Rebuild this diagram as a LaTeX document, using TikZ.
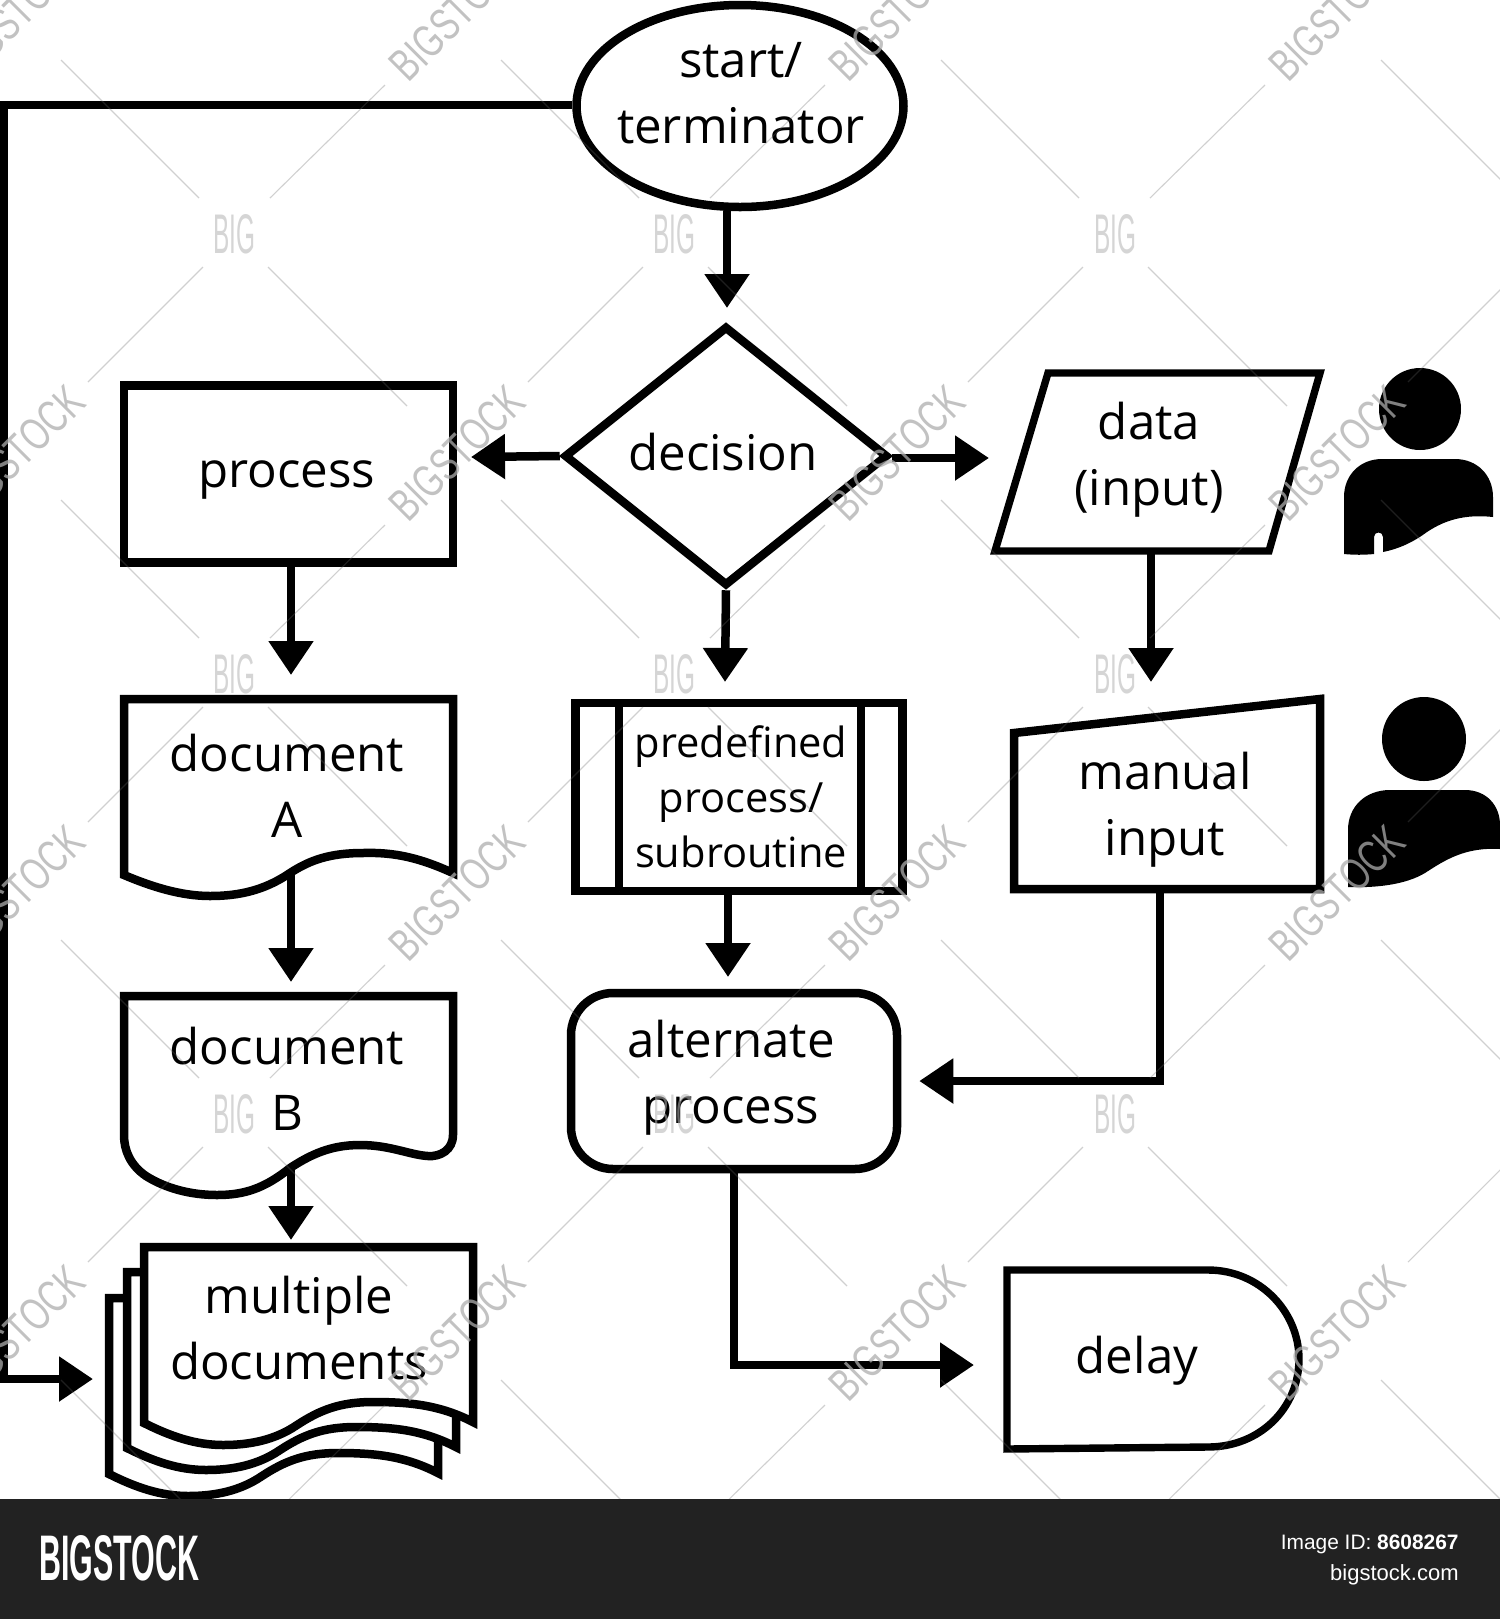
\documentclass[tikz,border=0pt]{standalone}
\usepackage{fontspec}
\usepackage{graphicx}
\usetikzlibrary{arrows.meta,shapes.geometric}
\setmainfont{Open Sans}
\newfontfamily\footfont{Liberation Sans}
\definecolor{footbg}{HTML}{222222}
\definecolor{wmark}{gray}{0.68}
\definecolor{wbig}{gray}{0.71}
\definecolor{wline}{gray}{0.4}
\tikzset{
  x=0.5pt,y=-0.5pt,
  shapeline/.style={draw=black,line width=4.25pt,fill=white,miter limit=10},
  thinshape/.style={draw=black,line width=3.7pt,fill=white,miter limit=10},
  emptynode/.style={inner sep=0pt},
  conn/.style={draw=black,line width=4.25pt,-{Triangle[length=17pt,width=21.5pt]}},
  lbl/.style={inner sep=0pt,align=center,anchor=base,font=\fontsize{24.6}{32.7}\selectfont},
  lblsmall/.style={inner sep=0pt,align=center,anchor=base,font=\fontsize{20.8}{27.3}\selectfont},
  person/.style={fill=black,draw=none},
  wmline/.style={draw=wline,draw opacity=0.3,line width=0.55pt},
  foot/.style={inner sep=0pt,text=white,anchor=base east,font=\footfont\fontsize{11}{13}\selectfont},
}
\begin{document}
\begin{tikzpicture}
\clip (0,0) rectangle (1500,1619);
\fill[white] (0,0) rectangle (1500,1619);

% shapes
\node[shapeline,emptynode,ellipse,minimum width=163.5pt,minimum height=101pt] (start) at (740,106) {};
\node[shapeline,emptynode,diamond,minimum width=162pt,minimum height=130pt] (decision) at (726,456) {};
\node[shapeline,emptynode,rectangle,minimum width=164.5pt,minimum height=88.5pt] (process) at (288.5,474) {};
\node[shapeline,emptynode,rectangle,minimum width=163.5pt,minimum height=94pt] (predef) at (739,797) {};
\node[shapeline,emptynode,rectangle,rounded corners=21pt,minimum width=163pt,minimum height=88pt] (alt) at (734,1081) {};
\draw[shapeline] (619,703) -- (619,891);
\draw[shapeline] (861,703) -- (861,891);

% document A
\draw[shapeline] (124,699) -- (453,699) -- (453,873)
  .. controls (420,858) and (395,852) .. (363,853)
  .. controls (330,853) and (310,860) .. (290,873)
  .. controls (265,890) and (240,896) .. (210,896)
  .. controls (180,896) and (150,886) .. (124,875) -- cycle;
% document B
\draw[shapeline] (124,996) -- (453,996) -- (453,1135)
  .. controls (453,1150) and (440,1157) .. (428,1156)
  .. controls (410,1155) and (390,1145) .. (360,1145)
  .. controls (330,1145) and (310,1155) .. (290,1168)
  .. controls (265,1188) and (245,1195) .. (217,1195)
  .. controls (190,1195) and (165,1188) .. (146,1176)
  .. controls (130,1165) and (124,1150) .. (124,1135) -- cycle;
% multiple documents
\foreach \dx/\dy in {-35/51,-17/25,0/0}{
  \draw[shapeline,shift={(\dx,\dy)}] (144,1247) -- (473,1247) -- (473,1422)
    .. controls (440,1405) and (410,1402) .. (373,1402)
    .. controls (340,1402) and (320,1410) .. (297,1425)
    .. controls (275,1440) and (250,1445) .. (223,1445)
    .. controls (195,1445) and (170,1436) .. (144,1423) -- cycle;
}
% data
\draw[thinshape] (1048,373) -- (1320,373) -- (1269,551) -- (995,551) -- cycle;
% manual input
\draw[shapeline] (1014,733) -- (1320,699) -- (1320,889) -- (1014,889) -- cycle;
% delay
\draw[thinshape] (1007,1270) -- (1208,1270)
  .. controls (1260,1270) and (1299,1312) .. (1299,1359)
  .. controls (1299,1408) and (1260,1447) .. (1208,1447)
  -- (1007,1449) -- cycle;

% persons
\fill[person] (1420,409) circle[x radius=41,y radius=41];
\fill[person] (1344,554) -- (1344,497)
  .. controls (1344,475) and (1360,459) .. (1382,459) -- (1455,459)
  .. controls (1477,459) and (1493,475) .. (1493,497) -- (1493,517)
  .. controls (1465,514) and (1445,520) .. (1427,532)
  .. controls (1412,543) and (1398,549) .. (1383,552)
  -- (1383,537) .. controls (1383,531) and (1374,531) .. (1374,537) -- (1374,554)
  .. controls (1364,555) and (1354,555) .. (1344,554) -- cycle;
\fill[person] (1424,739) circle[x radius=42,y radius=42];
\fill[person] (1348,887) -- (1348,830)
  .. controls (1348,806) and (1366,790) .. (1390,790) -- (1465,790)
  .. controls (1487,790) and (1500,806) .. (1500,825) -- (1500,849)
  .. controls (1465,847) and (1445,860) .. (1425,873)
  .. controls (1405,885) and (1375,888) .. (1348,887) -- cycle;

% connector ends
\coordinate (destip) at (727,308);
\coordinate (datatip) at (989,458);
\coordinate (datain) at (1151,551);
\coordinate (datatarget) at (1151,682);
\coordinate (manout) at (1160,889);
\coordinate (atip) at (291,675);
\coordinate (aout) at (291,873);
\coordinate (btip) at (291,982);
\coordinate (bout) at (291,1168);
\coordinate (multitip) at (291,1240);
\coordinate (multileft) at (93,1379);
\coordinate (delaytip) at (974,1365);
\coordinate (edge) at (4,105);
\coordinate (predtip) at (725,682);
\coordinate (alttip) at (728,977);
\coordinate (procend) at (471,457);

% connectors
\draw[conn] (destip |- start.south) -- (destip);
\draw[conn] (decision.west) -- (procend);
\draw[conn] (decision.east |- datatip) -- (datatip);
\draw[conn] (decision.south) -- (predtip);
\draw[conn] (datain) -- (datatarget);
\draw[conn] (process.south -| atip) -- (atip);
\draw[conn] (aout) -- (btip);
\draw[conn] (bout) -- (multitip);
\draw[conn] (predef.south -| alttip) -- (alttip);
\draw[conn,shorten >=9pt] (manout) |- (alt.east);
\draw[conn] (alt.south) |- (delaytip);
\draw[conn] (start.west |- edge) -- (edge) -- (edge |- multileft) -- (multileft);

% labels
\node[lbl] (tstart) at (741,143) {start/\\terminator};
\node[lbl] (tdecision) at (723,470) {decision};
\node[lbl] (tprocess) at (287,487) {process};
\node[lbl] (tdata) at (1149,505) {data\\(input)};
\node[lbl] (tdocA) at (287,837) {document\\A};
\node[lbl] (tdocB) at (287,1130) {document\\B};
\node[lbl] (tmulti) at (299,1379) {multiple\\documents};
\node[lblsmall] (tpre) at (741,867) {predefined\\process/\\subroutine};
\node[lbl] (tman) at (1165,855) {manual\\input};
\node[lbl] (talt) at (731,1123) {alternate\\process};
\node[lbl] (tdelay) at (1137,1373) {delay};

% watermark
\foreach \cx in {234,674,1114,1554}{
  \foreach \cy in {234,674,1114,1554}{
    \draw[wmline] (\cx-173,\cy-174) -- (\cx-35,\cy-36);
    \draw[wmline] (\cx+151,\cy-149) -- (\cx+36,\cy-36);
    \draw[wmline] (\cx-31,\cy+33) -- (\cx-146,\cy+148);
    \draw[wmline] (\cx+34,\cy+33) -- (\cx+173,\cy+172);
  }
}
\foreach \cx in {234,674,1115}{
  \foreach \cy in {234,674,1114}{
    \node[inner sep=0pt,text=wbig,text opacity=0.56] (big\cx\cy) at (\cx,\cy) {\resizebox{21pt}{19.5pt}{\footfont BIG}};
  }
}
\foreach \cx in {17,457,897,1337}{
  \foreach \cy in {13,453,893,1333}{
    \node[inner sep=0pt,text=wmark,text opacity=0.74,rotate=45] (wm\cx\cy) at (\cx,\cy) {\resizebox{84pt}{16pt}{\footfont BIGSTOCK}};
  }
}

% footer
\fill[footbg] (0,1499) rectangle (1500,1619);
\node[inner sep=0pt,text=white,anchor=south west] (logo) at (39,1582) {\resizebox{80pt}{22.5pt}{\footfont\bfseries BIGSTOCK}};
\node[foot,font=\footfont\fontsize{10.45}{13}\selectfont] (imgid) at (1459,1549) {Image ID: \textbf{8608267}};
\node[foot] (site) at (1459,1580) {bigstock.com};
\end{tikzpicture}
\end{document}
